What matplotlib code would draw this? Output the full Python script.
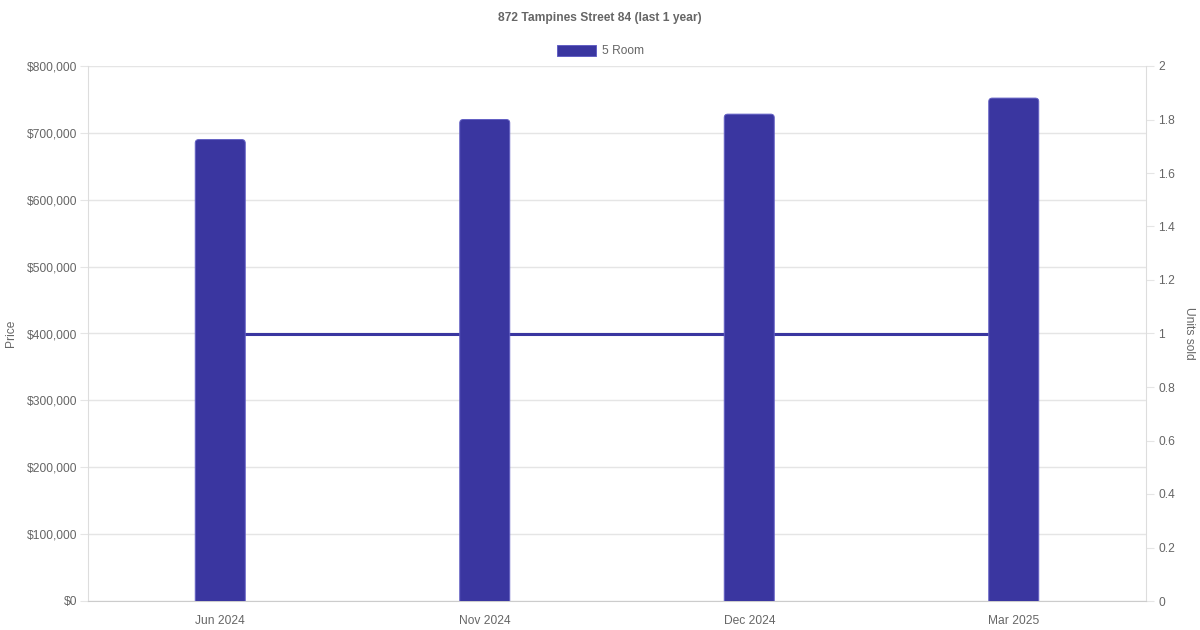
import matplotlib
matplotlib.use("Agg")
import matplotlib.pyplot as plt
from matplotlib.patches import FancyBboxPatch, Patch
from matplotlib.ticker import FuncFormatter, MultipleLocator

months = ["Jun 2024", "Nov 2024", "Dec 2024", "Mar 2025"]
prices = [690000, 720000, 728000, 752000]
units_sold = [1, 1, 1, 1]
series_name = "5 Room"
title = "872 Tampines Street 84 (last 1 year)"

plt.rcParams["font.family"] = ["Liberation Sans", "DejaVu Sans"]
TXT = "#666666"
BAR = "#3a36a0"
EDGE = "#6360c4"
FS = 8.64

W, H = 1200, 630
fig = plt.figure(figsize=(12, 6.3), dpi=100)
L, R, B, T = 88, 1146, 601, 66
ax = fig.add_axes([L / W, 1 - B / H, (R - L) / W, (B - T) / H])
ax2 = ax.twinx()
ax.set_zorder(ax2.get_zorder() + 1)
ax.patch.set_visible(False)

x = list(range(len(months)))
ax.set_xlim(-0.5, len(months) - 0.5)
ax.set_ylim(0, 800000)
ax2.set_ylim(0, 2)

# line (units sold) measured on the right axis, drawn above grid but below bars
ax.plot(x, units_sold, color=BAR, lw=2.2, solid_capstyle="butt",
        transform=ax2.transData, zorder=2)

# bars with rounded top corners
bw = 50 / ((R - L) / len(months))
bars = ax.bar(x, prices, width=bw, color=BAR)
px_x = (R - L) / len(months)
px_y = (B - T) / 800000
r = 3.5
rx = r / px_x
ry = r / px_y
for b in bars:
    bx, by = b.get_x(), b.get_y()
    bwid, bh = b.get_width(), b.get_height()
    b.set_visible(False)
    p = FancyBboxPatch((bx, by - 2 * ry), bwid, bh + 2 * ry,
                       boxstyle=f"round,pad=0,rounding_size={rx}",
                       mutation_aspect=ry / rx,
                       facecolor=BAR, edgecolor=EDGE, lw=0.7, zorder=3)
    ax.add_patch(p)

ax.set_xticks(x)
ax.set_xticklabels(months)
ax.yaxis.set_major_locator(MultipleLocator(100000))
ax.yaxis.set_major_formatter(FuncFormatter(lambda v, p: f"${v:,.0f}"))
ax2.yaxis.set_major_locator(MultipleLocator(0.2))
ax2.yaxis.set_major_formatter(FuncFormatter(lambda v, p: f"{v:.1f}".rstrip("0").rstrip(".") if v else "0"))

ax.grid(axis="y", color="#e5e5e5", lw=1, zorder=0)
ax.set_axisbelow(True)

for a in (ax, ax2):
    for s in a.spines.values():
        s.set_visible(False)
ax.spines["left"].set_visible(True)
ax.spines["left"].set_color("#dddddd")
ax.spines["bottom"].set_visible(True)
ax.spines["bottom"].set_color("#cccccc")
ax2.spines["right"].set_visible(True)
ax2.spines["right"].set_color("#dddddd")

ax.tick_params(axis="y", colors="#e5e5e5", labelcolor=TXT, labelsize=FS, length=5.76, pad=2.2)
ax.tick_params(axis="x", length=0, labelcolor=TXT, labelsize=FS, pad=10)
ax2.tick_params(axis="y", colors="#e5e5e5", labelcolor=TXT, labelsize=FS, length=5.76, pad=3)

fig.text(11 / W, 1 - 333 / H, "Price", rotation=90, ha="center", va="center", color=TXT, fontsize=FS)
fig.text(1189 / W, 1 - 333 / H, "Units sold", rotation=270, ha="center", va="center", color=TXT, fontsize=FS)
fig.text(600 / W, 1 - 17.5 / H, title, ha="center", va="center", color=TXT, fontsize=FS, fontweight="bold")

fig.legend(handles=[Patch(facecolor=BAR, edgecolor=EDGE, lw=0.7, label=series_name)],
           loc="center", bbox_to_anchor=(600 / W, 1 - 51 / H), frameon=False,
           fontsize=FS, labelcolor=TXT, handlelength=39 / 12, handleheight=1.0,
           handletextpad=0.5, borderpad=0)

fig.savefig("out.png", dpi=100)
